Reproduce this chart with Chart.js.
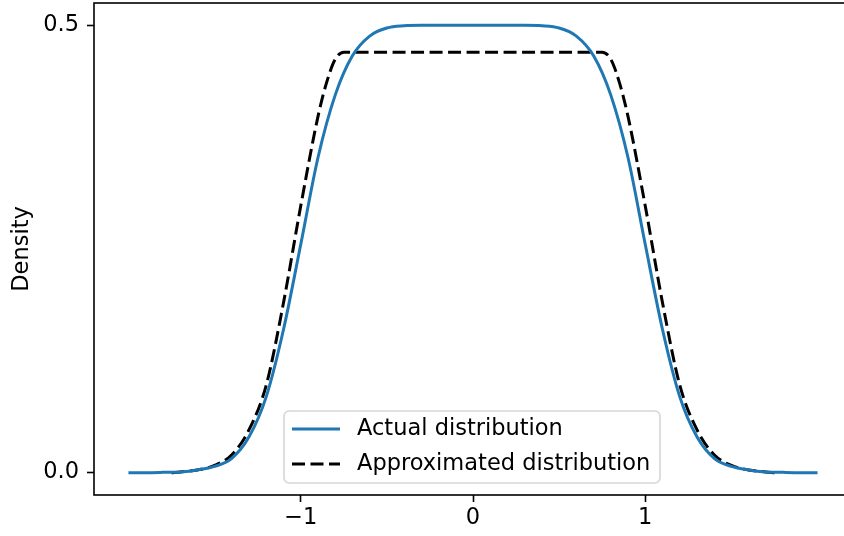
<!DOCTYPE html>
<html>
<head>
<meta charset="utf-8">
<script src="https://cdn.jsdelivr.net/npm/chart.js@4.4.1/dist/chart.umd.min.js"></script>
<style>
  html, body { margin: 0; padding: 0; background: #fff; overflow: hidden; }
  #wrap { width: 844px; height: 536px; overflow: hidden; }
</style>
</head>
<body>
<div id="wrap"><canvas id="c" width="870" height="536"></canvas></div>
<script>
// values
let xActual = [-2.0, -1.9, -1.8, -1.7, -1.6, -1.5, -1.4, -1.3, -1.2, -1.1, -1.0, -0.9, -0.8, -0.7, -0.6, -0.5, -0.4, -0.3, -0.2, -0.1,
  0.0, 0.1, 0.2, 0.3, 0.4, 0.5, 0.6, 0.7, 0.8, 0.9, 1.0, 1.1, 1.2, 1.3, 1.4, 1.5, 1.6, 1.7, 1.8, 1.9, 2.0];
let yActual = [0.000, 0.000, 0.0003, 0.0008, 0.003, 0.007, 0.016, 0.040, 0.085, 0.160, 0.255, 0.352, 0.422, 0.466, 0.488, 0.497, 0.4995, 0.500, 0.500, 0.500,
  0.500, 0.500, 0.500, 0.500, 0.4995, 0.497, 0.488, 0.466, 0.422, 0.352, 0.255, 0.160, 0.085, 0.040, 0.016, 0.007, 0.003, 0.0008, 0.0003, 0.000, 0.000];

let xApprox = [-1.75, -1.7, -1.6, -1.5, -1.4, -1.3, -1.2, -1.1, -1.0, -0.9, -0.85, -0.8, -0.75, -0.7, -0.5, -0.3, -0.1,
  0.1, 0.3, 0.5, 0.7, 0.75, 0.8, 0.85, 0.9, 1.0, 1.1, 1.2, 1.3, 1.4, 1.5, 1.6, 1.7, 1.75];
let yApprox = [0.000, 0.0008, 0.003, 0.008, 0.020, 0.048, 0.098, 0.190, 0.298, 0.398, 0.436, 0.462, 0.470, 0.470, 0.470, 0.470, 0.470,
  0.470, 0.470, 0.470, 0.470, 0.470, 0.462, 0.436, 0.398, 0.298, 0.190, 0.098, 0.048, 0.020, 0.008, 0.003, 0.0008, 0.000];

let seriesNames = ['Actual distribution', 'Approximated distribution'];

let xTickValues = [-1, 0, 1];
let xTickLabels = ['\u22121', '0', '1'];
let yTickValues = [0, 0.5];
let yTickLabels = ['0.0', '0.5'];

Chart.defaults.font.family = 'DejaVu Sans';
Chart.defaults.font.size = 22.5;
Chart.defaults.color = '#000';

// box round the plot (matplotlib spines)
let frame = {
  id: 'frame',
  afterDatasetsDraw(chart) {
    let a = chart.chartArea;
    let ctx = chart.ctx;
    ctx.save();
    ctx.strokeStyle = '#000';
    ctx.lineWidth = 1.6;
    ctx.strokeRect(a.left, a.top, a.right - a.left, a.bottom - a.top);
    ctx.restore();
  }
};

// legend box inside the plot, lower centre
let boxLegend = {
  id: 'boxLegend',
  afterDraw(chart) {
    let ctx = chart.ctx;
    ctx.save();
    ctx.beginPath();
    ctx.roundRect(284, 411, 376, 72, 5);
    ctx.fillStyle = 'rgba(255,255,255,0.8)';
    ctx.fill();
    ctx.strokeStyle = '#d6d6d6';
    ctx.lineWidth = 1.6;
    ctx.stroke();
    chart.data.datasets.forEach((ds, i) => {
      let y = 429 + i * 35;
      ctx.beginPath();
      ctx.setLineDash(ds.borderDash || []);
      ctx.strokeStyle = ds.borderColor;
      ctx.lineWidth = ds.borderWidth;
      ctx.moveTo(292, y);
      ctx.lineTo(340, y);
      ctx.stroke();
      ctx.setLineDash([]);
      ctx.fillStyle = '#000';
      ctx.font = '22.5px "DejaVu Sans"';
      ctx.textBaseline = 'middle';
      ctx.textAlign = 'left';
      ctx.fillText(ds.label, 357, y);
    });
    ctx.restore();
  }
};

new Chart(document.getElementById('c'), {
  type: 'line',
  data: {
    datasets: [{
        data: xActual.map((x, i) => ({x: x, y: yActual[i]})),
        label: seriesNames[0],
        borderColor: '#1f77b4',
        borderWidth: 3,
        fill: false,
        pointRadius: 0,
        cubicInterpolationMode: 'monotone'
      }, {
        data: xApprox.map((x, i) => ({x: x, y: yApprox[i]})),
        label: seriesNames[1],
        borderColor: '#000000',
        borderWidth: 3,
        borderDash: [13, 5.5],
        fill: false,
        pointRadius: 0,
        cubicInterpolationMode: 'monotone'
      }
    ]
  },
  options: {
    responsive: false,
    animation: false,
    events: [],
    layout: { padding: { top: 3, right: 18, left: 0, bottom: 0 } },
    plugins: {
      legend: { display: false },
      tooltip: { enabled: false },
      title: { display: false }
    },
    scales: {
      x: {
        type: 'linear',
        min: -2.2,
        max: 2.2,
        border: { display: false },
        grid: { drawOnChartArea: false, drawTicks: true, tickLength: 7, tickWidth: 1.6, tickColor: '#000' },
        ticks: {
          padding: 3,
          maxRotation: 0,
          callback: (v) => xTickLabels[xTickValues.indexOf(v)]
        },
        afterBuildTicks: (s) => { s.ticks = xTickValues.map(v => ({value: v})); },
        afterFit: (s) => { s.height = 41; s.paddingLeft = 0; s.paddingRight = 0; }
      },
      y: {
        type: 'linear',
        min: -0.025,
        max: 0.525,
        border: { display: false },
        grid: { drawOnChartArea: false, drawTicks: true, tickLength: 7, tickWidth: 1.6, tickColor: '#000' },
        ticks: {
          padding: 8,
          callback: (v) => yTickLabels[yTickValues.indexOf(v)]
        },
        title: { display: true, text: 'Density', padding: { top: 9, bottom: 0 } },
        afterBuildTicks: (s) => { s.ticks = yTickValues.map(v => ({value: v})); },
        afterFit: (s) => { s.width = 94; s.paddingTop = 0; s.paddingBottom = 0; }
      }
    }
  },
  plugins: [frame, boxLegend]
});
</script>
</body>
</html>
